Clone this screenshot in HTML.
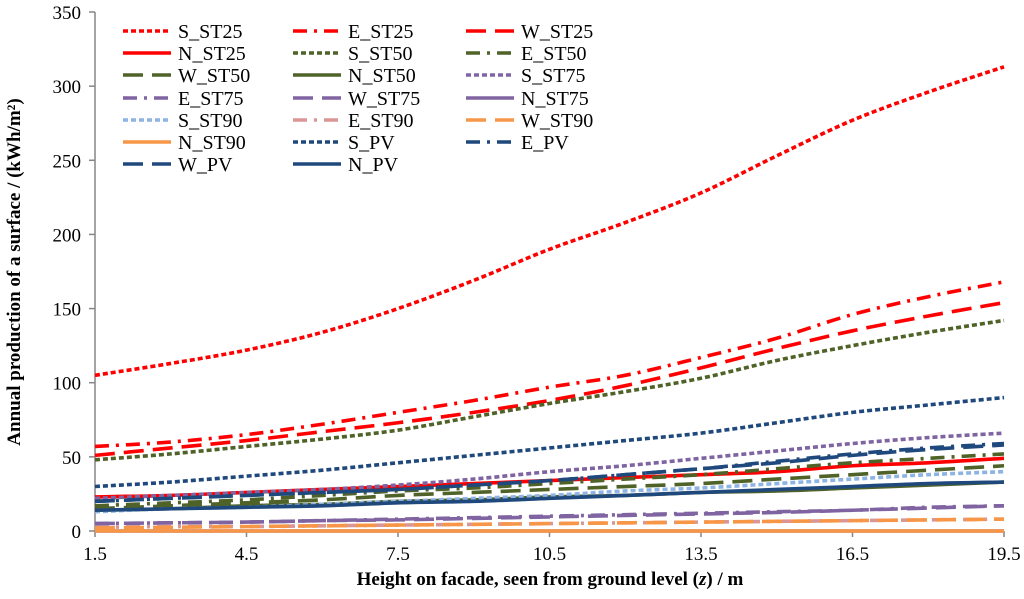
<!DOCTYPE html>
<html><head><meta charset="utf-8"><style>
body{margin:0;background:#fff}
svg,svg text{font-family:"Liberation Serif","DejaVu Serif",serif}
</style></head><body>
<svg id="c" width="1024" height="594" font-family="Liberation Serif, serif">
<g id="axes"></g><g id="series"></g><g id="legend"></g>
<text transform="translate(20,272) rotate(-90)" text-anchor="middle" font-size="19" font-weight="bold">Annual production of a surface / (kWh/m²)</text>
<text x="550" y="585" text-anchor="middle" font-size="19" font-weight="bold">Height on facade, seen from ground level (<tspan font-style="italic">z</tspan>) / m</text>
</svg>
<script>
const xs=[1.5,3,4.5,6,7.5,9,10.5,12,13.5,15,16.5,18,19.5];
const xTicks=["1.5","4.5","7.5","10.5","13.5","16.5","19.5"];
const yTicks=[0,50,100,150,200,250,300,350];
const names=["S_ST25","E_ST25","W_ST25","N_ST25","S_ST50","E_ST50","W_ST50","N_ST50","S_ST75","E_ST75","W_ST75","N_ST75","S_ST90","E_ST90","W_ST90","N_ST90","S_PV","E_PV","W_PV","N_PV"];
const S_ST25=[105,113,122,134,150,169,190,208,228,253,277,296,313];
const E_ST25=[57,60,65,72,80,88,97,105,117,130,146,158,168];
const W_ST25=[51,56,61,67,73,80,88,98,110,123,135,145,154];
const N_ST25=[23,24,26,28,30,32,34,36,38,40,44,46,49];
const S_ST50=[48,52,57,62,68,77,86,94,103,115,125,134,142];
const E_ST50=[17,19,21,24,27,29,32,35,38,42,46,49,52];
const W_ST50=[15,17,19,21,24,26,28,30,32,35,38,41,44];
const N_ST50=[14,15,17,18,20,21,23,24,26,27,29,31,33];
const S_ST75=[22,24,26,28,31,35,40,44,49,54,59,63,66];
const E_ST75=[5,5.5,6,7,8,9,10,11,12,13,14,16,17];
const W_ST75=[5,5.5,6,7,7.5,8.5,9.5,10.5,11.5,12.5,14,15.5,17];
const N_ST75=[0,0,0,0,0,0,0,0,0,0,0,0,0];
const S_ST90=[13,15,16,18,20,22,24,27,29,32,35,38,40];
const E_ST90=[2.5,3,3,3.5,4,4.5,5,5.5,6,6.5,7,7.5,8];
const W_ST90=[2,2.5,3,3.5,4,4.5,5,5.5,6,6.5,7,7.5,8];
const N_ST90=[0,0,0,0,0,0,0,0,0,0,0,0,0];
const S_PV=[30,33,37,41,46,51,56,61,66,73,80,85,90];
const E_PV=[20,22,24,26,28,31,34,38,42,47,52,56,59];
const W_PV=[20,22,24,26,28,31,34,38,42,46,51,55,58];
const N_PV=[14,15,16,17,19,20,22,24,26,28,30,32,33];
const vals=[S_ST25,E_ST25,W_ST25,N_ST25,S_ST50,E_ST50,W_ST50,N_ST50,S_ST75,E_ST75,W_ST75,N_ST75,S_ST90,E_ST90,W_ST90,N_ST90,S_PV,E_PV,W_PV,N_PV];
const colors=["#ff0000","#ff0000","#ff0000","#ff0000","#4f6228","#4f6228","#4f6228","#4f6228","#8064a2","#8064a2","#8064a2","#8064a2","#8eb4e3","#d99694","#f79646","#f79646","#1f497d","#1f497d","#1f497d","#1f497d"];
const dashes=["5,3","14,7,3,7","20,9","","5,3","14,7,3,7","20,9","","5,3","14,7,3,7","20,9","","5,3","14,7,3,7","20,9","","5,3","14,7,3,7","20,9",""];
const NS="http://www.w3.org/2000/svg";
const X0=95,X1=1004,Y0=531,Y1=12;
const xp=v=>X0+(v-1.5)/18*(X1-X0);
const yp=v=>Y0-v/350*(Y0-Y1);
function mk(t,a,p){const e=document.createElementNS(NS,t);for(const k in a)e.setAttribute(k,a[k]);p.appendChild(e);return e;}
function smooth(pts){let d='M'+pts[0][0]+','+pts[0][1];for(let i=0;i<pts.length-1;i++){const p0=pts[i-1]||pts[i],p1=pts[i],p2=pts[i+1],p3=pts[i+2]||p2;
d+=' C'+(p1[0]+(p2[0]-p0[0])/6)+','+(p1[1]+(p2[1]-p0[1])/6)+' '+(p2[0]-(p3[0]-p1[0])/6)+','+(p2[1]-(p3[1]-p1[1])/6)+' '+p2[0]+','+p2[1];}return d;}
const ax=document.getElementById('axes');
let e=mk('line',{x1:X0,y1:Y1,x2:X0,y2:Y0,stroke:'#868686','stroke-width':1.5},ax);


e=mk('line',{x1:X0,y1:Y0,x2:X1,y2:Y0,stroke:'#868686','stroke-width':1.5},ax);


yTicks.forEach(v=>{mk('line',{x1:X0-6,x2:X0,y1:yp(v),y2:yp(v),stroke:'#868686','stroke-width':1.5},ax);
const t=mk('text',{x:X0-14,y:yp(v)+7,'text-anchor':'end','font-size':19},ax);t.textContent=v;

});
xTicks.forEach(s=>{const v=parseFloat(s);mk('line',{x1:xp(v),x2:xp(v),y1:Y0,y2:Y0+6,stroke:'#868686','stroke-width':1.5},ax);
const t=mk('text',{x:xp(v),y:Y0+29,'text-anchor':'middle','font-size':19},ax);t.textContent=s;

});
const sg=document.getElementById('series');
for(let i=0;i<names.length;i++){
const p=mk('path',{d:smooth(xs.map((x,j)=>[xp(x),yp(vals[i][j])])),fill:'none',stroke:colors[i],'stroke-width':3.6,'stroke-dasharray':dashes[i]},sg);

}
const lg=document.getElementById('legend');
const cx=[123,293,466],ry=[31,53,75,98,120,142,164];
names.forEach((n,i)=>{const c=i%3,r=Math.floor(i/3);const g=mk('g',{},lg);


mk('line',{x1:cx[c],x2:cx[c]+48,y1:ry[r],y2:ry[r],stroke:colors[i],'stroke-width':3.6,'stroke-dasharray':dashes[i]},g);
const t=mk('text',{x:cx[c]+55,y:ry[r]+7,'font-size':20,'font-family':'Liberation Serif, serif'},g);t.textContent=n;});
</script>
</body></html>
